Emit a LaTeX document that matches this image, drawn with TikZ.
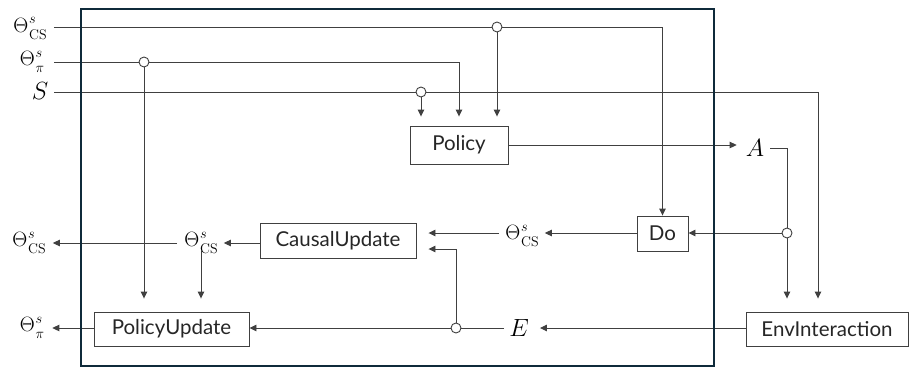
\documentclass[tikz,border=0pt]{standalone}
\usepackage{fontspec}
\setsansfont{Lato}
\usetikzlibrary{arrows.meta,calc}
\definecolor{frame}{HTML}{0F2A3A}
\definecolor{ln}{HTML}{404040}
\newcommand{\thx}[1]{$\Theta$\kern0.8pt\rlap{\raisebox{8.5pt}{\fontsize{15}{15}\selectfont$s$}}\raisebox{-7pt}{\fontsize{14}{14}\selectfont$#1$}}
\begin{document}
\begin{tikzpicture}[x=1pt,y=-1pt,
  box/.style={draw=ln,line width=0.9pt,minimum height=35pt,inner sep=0pt,font=\sffamily\fontsize{20.5}{24}\selectfont,text=black!85},
  lab/.style={inner sep=0pt,font=\fontsize{22}{26}\selectfont},
  wire/.style={draw=ln,line width=0.9pt},
  arr/.style={wire,-{Triangle[length=7pt,width=6.5pt]}},
  junc/.style={circle,draw=ln,fill=white,line width=0.9pt,minimum size=10pt,inner sep=0pt}]
\useasboundingbox (0,0) rectangle (911,368);
% labels
\node[lab] (lcs) at (30,28.5) {\thx{\mathrm{CS}}};
\node[lab] (lpi) at (32,62) {\thx{\pi}};
\node[lab,font=\fontsize{24}{28}\selectfont] (ls) at (40,91) {$S$};
\node[lab,font=\fontsize{24}{28}\selectfont] (A) at (755,148) {$A$};
\node[lab] (th2) at (522,236) {\thx{\mathrm{CS}}};
\node[lab] (th1) at (201,243) {\thx{\mathrm{CS}}};
\node[lab] (outcs) at (29,243) {\thx{\mathrm{CS}}};
\node[lab] (outpi) at (32,328) {\thx{\pi}};
\node[lab,font=\fontsize{24}{28}\selectfont] (E) at (519,328) {$E$};
% boxes
\node[box,minimum width=98pt,minimum height=38pt] (policy) at (459,145) {Policy};
\node[box,minimum width=51pt] (do) at (662.5,233.5) {Do};
\node[box,minimum width=156pt] (causal) at (338,240.5) {CausalUpdate};
\node[box,minimum width=155pt,minimum height=34pt] (polupd) at (171.5,329) {PolicyUpdate};
\node[box,minimum width=162pt,minimum height=34pt] (env) at (827,329) {EnvInteraction};
% junction coordinates
\coordinate (j1) at (497,27);
\coordinate (j2) at (144,62);
\coordinate (j3) at (421,92);
\coordinate (j4) at (787,233);
\coordinate (j5) at (456,328);
% wires
\draw[arr] ([xshift=7pt]lcs.east|-j1) -| (do.north);
\draw[arr,shorten >=9pt] (j1) -- (j1|-policy.north);
\draw[arr,shorten >=9pt] ([xshift=10pt]lpi.east|-j2) -| (policy.north);
\draw[arr,shorten >=13pt] (j2) -- (j2|-polupd.north);
\draw[arr,shorten >=13pt] ([xshift=6pt]ls.east|-j3) -| ([xshift=-9pt]env.north);
\draw[arr,shorten >=9pt] (j3) -- (j3|-policy.north);
\draw[arr] (policy.east) -- ([xshift=-9pt]A.west|-policy.east);
\draw[arr,shorten >=13pt] ([xshift=6pt]A.east) -| (j4|-env.north);
\draw[arr] (j4) -- (do.east|-j4);
\draw[arr] (do.west|-j4) -- ([xshift=6pt]th2.east|-j4);
\draw[arr,shorten >=12pt] ([xshift=-6pt]th2.west|-j4) -- (causal.east|-j4);
\draw[arr,shorten >=12pt] (j5) |- ($(causal.east)+(0,8.5)$);
\draw[arr] (env.west|-j5) -- ([xshift=11pt]E.east|-j5);
\draw[arr] ([xshift=-5pt]E.west|-j5) -- (polupd.east|-j5);
\draw[arr] (polupd.west|-j5) -- ([xshift=8pt]outpi.east|-j5);
\draw[arr] (causal.west|-th1) -- ([xshift=6pt]th1.east);
\draw[arr] ([xshift=-7pt]th1.west) -- ([xshift=7pt]outcs.east|-th1);
\draw[arr,shorten >=13pt] ([yshift=4pt]th1.south) -- (th1|-polupd.north);
% frame
\draw[frame,line width=2.5pt] (81,9) rectangle (714,366);
% junctions
\foreach \j in {j1,j2,j3,j4,j5} \node[junc] at (\j) {};
\end{tikzpicture}
\end{document}
